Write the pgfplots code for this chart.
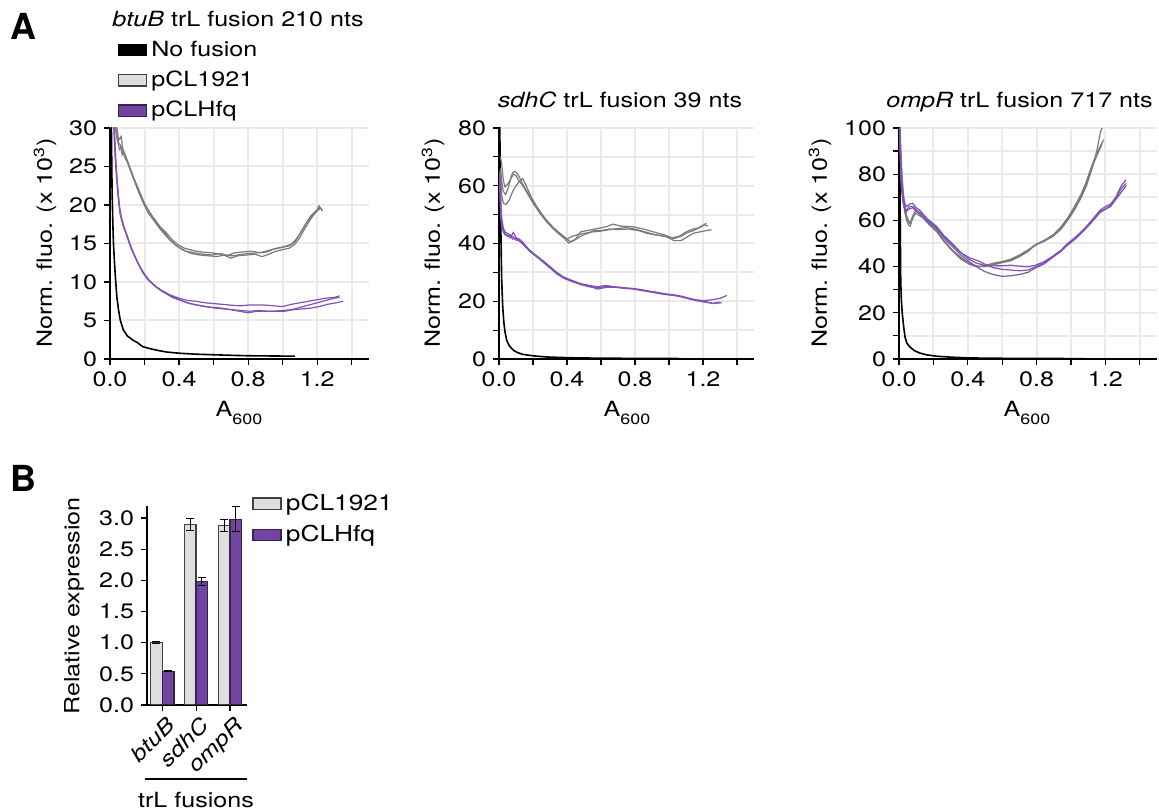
\documentclass[border=0pt]{standalone}
\usepackage{fontspec}
\setmainfont{TeX Gyre Heros}[FakeStretch=1.2]
\newfontfamily\panelfont{TeX Gyre Heros}
\usepackage{pgfplots}
\pgfplotsset{compat=1.18}
\definecolor{gline}{RGB}{122,122,122}
\definecolor{pline}{RGB}{128,82,180}
\definecolor{pbar}{RGB}{112,68,160}
\definecolor{pborder}{RGB}{55,35,75}
\definecolor{gbar}{RGB}{222,222,222}
\definecolor{gborder}{RGB}{65,65,65}
\definecolor{gridc}{RGB}{234,234,234}
\newcommand{\fs}{\fontsize{10.5}{12}\selectfont}
\pgfplotsset{
  panel/.style={
    scale only axis, height=115.5bp,
    xmin=0, xmax=1.5, ymin=0,
    axis lines=left, axis line style={-, line width=0.7bp, black},
    tick align=outside, major tick length=3bp,
    tick style={black, line width=0.6bp},
    grid=major, major grid style={draw=gridc, line width=1bp},
    xtick={0,0.2,0.4,0.6,0.8,1.0,1.2,1.4},
    xticklabels={0.0,,0.4,,0.8,,1.2,},
    tick label style={font=\fs},
    /pgf/number format/assume math mode=true,
  },
  gs/.style={draw=gline, line width=0.6bp, mark=none, forget plot},
  ps/.style={draw=pline, line width=0.6bp, mark=none, forget plot},
  ks/.style={draw=black, line width=0.8bp, mark=none, forget plot},
  eb/.style={draw=none, mark=none, forget plot,
    error bars/.cd, y dir=both, y explicit,
    error bar style={draw=black, solid, line width=0.5bp},
    error mark options={rotate=90, draw=black, mark size=2bp, line width=0.5bp}},
}
\begin{document}
\begin{tikzpicture}
\useasboundingbox (0,0) rectangle (579.5bp,406bp);
% ---------------- A1 btuB
\begin{axis}[panel, at={(55bp,226.5bp)}, anchor=south west, width=129.5bp,
  ymax=30, ytick={0,5,10,15,20,25,30}, yticklabels={0,5,10,15,20,25,30},
  legend style={at={(axis description cs:0.03,1.395)}, anchor=north west, draw=none, fill=none,
    inner sep=0pt, row sep=1.8bp, font=\fs},
  legend cell align=left,
  legend image code/.code={\draw[#1] (0bp,-2.8bp) rectangle (14bp,2.8bp);}]
\addplot[ks] coordinates {(0.006,35)(0.009,28)(0.012,22)(0.016,18)(0.02,15)(0.03,11)(0.04,8)(0.05,6.3)(0.06,5.0)(0.077,3.8)(0.1,3.0)(0.13,2.5)(0.16,2.1)(0.19,1.6)(0.23,1.35)(0.28,1.1)(0.33,0.9)(0.4,0.75)(0.5,0.62)(0.6,0.55)(0.7,0.48)(0.8,0.42)(0.9,0.4)(1.0,0.38)(1.07,0.38)};
\addplot[gs] coordinates {(0.025,32)(0.035,29.5)(0.045,28.2)(0.06,27.8)(0.07,26.5)(0.08,27.0)(0.095,26.0)(0.11,25.0)(0.135,23.6)(0.16,22.2)(0.19,20.6)(0.22,19.4)(0.25,18.4)(0.29,17.2)(0.33,16.3)(0.36,15.5)(0.39,14.9)(0.43,14.4)(0.48,14.1)(0.53,13.9)(0.58,13.8)(0.62,13.7)(0.67,13.5)(0.71,13.4)(0.76,13.6)(0.81,13.7)(0.86,13.8)(0.91,13.9)(0.95,14.3)(1.0,14.5)(1.04,14.7)(1.07,15.2)(1.1,16.3)(1.13,17.4)(1.16,18.5)(1.19,19.2)(1.22,19.7)};
\addplot[gs] coordinates {(0.03,31)(0.04,28.8)(0.055,27.2)(0.07,27.6)(0.085,26.2)(0.1,25.6)(0.13,23.8)(0.16,22.0)(0.19,20.4)(0.22,19.0)(0.26,17.8)(0.3,16.6)(0.34,15.6)(0.38,14.8)(0.42,14.2)(0.47,13.7)(0.52,13.5)(0.57,13.4)(0.62,13.3)(0.66,13.5)(0.7,13.1)(0.74,13.4)(0.79,13.5)(0.84,13.6)(0.88,13.3)(0.92,13.6)(0.96,14.0)(1.0,14.2)(1.04,14.4)(1.07,14.9)(1.1,15.8)(1.13,17.0)(1.16,18.1)(1.19,19.0)(1.22,19.6)(1.23,19.3)};
\addplot[gs] coordinates {(0.03,33)(0.04,30)(0.05,28.4)(0.065,28.9)(0.075,27.0)(0.09,26.4)(0.11,25.2)(0.14,23.4)(0.17,21.8)(0.2,20.2)(0.23,19.0)(0.27,17.6)(0.31,16.6)(0.35,15.4)(0.39,14.6)(0.44,14.0)(0.49,13.8)(0.54,13.6)(0.59,13.5)(0.64,13.7)(0.68,13.4)(0.72,13.8)(0.77,13.9)(0.82,14.0)(0.87,13.8)(0.92,14.1)(0.97,14.4)(1.01,14.6)(1.05,14.9)(1.08,15.6)(1.11,16.6)(1.14,17.8)(1.17,18.6)(1.2,19.4)(1.21,19.9)(1.23,19.2)};
\addplot[ps] coordinates {(0.02,32)(0.03,27)(0.04,23.6)(0.05,20.8)(0.058,19.0)(0.07,17.8)(0.085,16.8)(0.1,16.0)(0.115,15.0)(0.135,13.8)(0.16,12.5)(0.19,11.2)(0.22,10.3)(0.26,9.5)(0.3,8.9)(0.35,8.3)(0.4,7.9)(0.45,7.6)(0.5,7.5)(0.55,7.3)(0.6,7.2)(0.65,7.1)(0.7,7.0)(0.75,6.9)(0.8,7.0)(0.85,7.0)(0.9,7.0)(0.95,6.9)(1.0,6.8)(1.05,7.1)(1.1,7.3)(1.15,7.5)(1.2,7.7)(1.25,7.9)(1.3,8.0)(1.33,8.2)};
\addplot[ps] coordinates {(0.02,31)(0.03,26)(0.04,23)(0.05,20.4)(0.06,18.7)(0.075,17.5)(0.09,16.5)(0.11,15.2)(0.13,14.0)(0.16,12.6)(0.19,11.3)(0.22,10.4)(0.26,9.5)(0.3,8.8)(0.35,8.2)(0.4,7.7)(0.45,7.3)(0.5,7.0)(0.55,6.8)(0.6,6.7)(0.65,6.6)(0.7,6.4)(0.75,6.2)(0.8,6.0)(0.85,6.2)(0.9,6.2)(0.95,6.2)(1.0,6.3)(1.05,6.4)(1.1,6.7)(1.15,7.0)(1.2,7.3)(1.25,7.6)(1.3,7.9)(1.33,8.0)};
\addplot[ps] coordinates {(0.025,30)(0.035,25)(0.045,22)(0.055,19.8)(0.065,18.5)(0.08,17.2)(0.095,16.2)(0.115,14.8)(0.14,13.5)(0.17,12.1)(0.2,11.0)(0.23,10.1)(0.27,9.3)(0.31,8.7)(0.36,8.0)(0.41,7.6)(0.46,7.2)(0.51,7.0)(0.56,6.8)(0.61,6.6)(0.66,6.5)(0.71,6.4)(0.76,6.3)(0.81,6.2)(0.86,6.3)(0.91,6.2)(0.96,6.2)(1.01,6.2)(1.06,6.4)(1.11,6.5)(1.16,6.6)(1.21,6.8)(1.26,7.1)(1.31,7.3)(1.35,7.5)};
\addlegendimage{fill=black, draw=black, line width=0.6bp}
\addlegendentry{No fusion}
\addlegendimage{fill=gbar, draw=gborder, line width=0.6bp}
\addlegendentry{pCL1921}
\addlegendimage{fill=pbar, draw=pborder, line width=0.6bp}
\addlegendentry{pCLHfq}
\end{axis}
% ---------------- A2 sdhC
\begin{axis}[panel, at={(249.5bp,226.5bp)}, anchor=south west, width=127.5bp,
  ymax=80, ytick={0,10,20,30,40,50,60,70,80}, yticklabels={0,,20,,40,,60,,80}]
\addplot[ks] coordinates {(0.004,85)(0.008,60)(0.012,40)(0.016,27)(0.022,18)(0.028,13)(0.035,9.5)(0.045,6.5)(0.06,4.6)(0.085,3.0)(0.11,2.2)(0.14,1.6)(0.2,1.1)(0.28,0.7)(0.38,0.5)(0.48,0.35)(0.6,0.3)(0.8,0.2)(1.07,0.15)};
\addplot[gs] coordinates {(0.008,70)(0.016,67.7)(0.025,62)(0.035,59.6)(0.05,60.5)(0.065,62)(0.08,64.5)(0.094,65)(0.11,64)(0.12,63)(0.14,60.5)(0.16,58.5)(0.19,55.5)(0.22,52.7)(0.25,50.2)(0.28,48)(0.32,45.5)(0.36,43.5)(0.39,42)(0.42,40.6)(0.45,41.5)(0.48,44)(0.52,44.5)(0.58,45.2)(0.63,45.8)(0.67,46.7)(0.72,46)(0.79,45.8)(0.85,45)(0.91,44)(0.97,43)(1.03,41.7)(1.07,42.5)(1.11,43.8)(1.15,44.6)(1.19,46)(1.22,47)};
\addplot[gs] coordinates {(0.008,66)(0.015,62)(0.025,58)(0.04,57)(0.055,59.5)(0.07,62.5)(0.085,64)(0.1,63.5)(0.12,61.5)(0.14,60)(0.17,57)(0.2,54)(0.24,50.5)(0.28,47.5)(0.32,45)(0.36,43)(0.4,41.5)(0.43,42.5)(0.46,43)(0.5,43.5)(0.55,44)(0.6,44.3)(0.65,44.8)(0.7,45.2)(0.75,45.5)(0.8,45)(0.86,44)(0.92,43)(0.98,42.5)(1.03,41)(1.07,41)(1.1,42)(1.14,43.5)(1.18,44)(1.22,44.5)(1.25,44.8)};
\addplot[gs] coordinates {(0.008,64)(0.015,57)(0.025,54)(0.04,53.5)(0.06,55)(0.08,58)(0.1,60)(0.12,61.5)(0.14,62.5)(0.16,60)(0.19,56)(0.22,53)(0.26,49.5)(0.3,46.5)(0.34,44)(0.38,42)(0.41,40.2)(0.44,41)(0.48,42.5)(0.52,43.5)(0.56,44.5)(0.6,44.5)(0.65,45)(0.7,44.8)(0.76,45)(0.82,44.5)(0.87,43.5)(0.92,43)(0.97,42.5)(1.02,42)(1.06,42.5)(1.1,44)(1.14,45)(1.18,45.5)(1.21,46.5)(1.23,46)};
\addplot[ps] coordinates {(0.004,65)(0.008,56)(0.012,51)(0.018,48)(0.025,45.5)(0.035,44)(0.05,43.5)(0.07,42.5)(0.085,43.8)(0.1,42)(0.12,41.5)(0.14,40.5)(0.16,39)(0.18,37.7)(0.22,35.8)(0.26,34)(0.3,32)(0.34,30)(0.38,28.4)(0.43,27.2)(0.48,26.1)(0.53,25.5)(0.58,25)(0.63,25.5)(0.67,25)(0.72,24.8)(0.77,24.4)(0.82,24)(0.87,23.6)(0.92,23.2)(0.97,22.6)(1.02,22.3)(1.07,21.8)(1.12,21)(1.16,20.5)(1.2,20.2)(1.25,20.5)(1.3,21)(1.34,22)};
\addplot[ps] coordinates {(0.004,63)(0.008,54)(0.012,49)(0.018,46.5)(0.025,45)(0.035,43.5)(0.05,42.5)(0.065,43)(0.08,41.5)(0.1,41.8)(0.12,40.8)(0.14,40)(0.16,38.8)(0.18,37.3)(0.22,35.5)(0.26,33.5)(0.3,31.5)(0.34,29.5)(0.38,28)(0.43,26.8)(0.48,25.8)(0.53,25)(0.58,24.6)(0.63,25.2)(0.68,25)(0.73,24.5)(0.78,24.3)(0.83,23.8)(0.88,23.3)(0.93,22.8)(0.98,22.3)(1.03,22)(1.08,21.4)(1.13,20.6)(1.18,20)(1.22,19.6)(1.26,19.3)(1.3,19.7)};
\addplot[ps] coordinates {(0.004,60)(0.008,52)(0.012,48)(0.018,45.5)(0.025,44)(0.035,43)(0.05,42.8)(0.065,42)(0.08,42.5)(0.1,41.2)(0.12,41)(0.14,39.8)(0.16,38.5)(0.18,37.6)(0.22,35.5)(0.26,33.7)(0.3,31.8)(0.34,29.7)(0.38,28.2)(0.43,27)(0.48,26)(0.53,25.3)(0.58,24.2)(0.63,24.8)(0.68,24.8)(0.73,24.6)(0.78,24.5)(0.83,24.1)(0.88,23.5)(0.93,23)(0.98,22.5)(1.03,22.1)(1.08,21.5)(1.13,20.8)(1.18,20.2)(1.22,19.8)(1.26,19.2)(1.31,19.5)};
\end{axis}
% ---------------- A3 ompR
\begin{axis}[panel, at={(449.5bp,226.5bp)}, anchor=south west, width=129bp,
  ymax=100, ytick={0,10,20,30,40,50,60,70,80,90,100}, yticklabels={0,,20,,40,,60,,80,,100}]
\addplot[ks] coordinates {(0.003,110)(0.006,70)(0.01,34)(0.014,25)(0.019,19.7)(0.027,14)(0.035,9.5)(0.045,7)(0.063,5.2)(0.09,3.6)(0.12,2.6)(0.16,1.8)(0.22,1.2)(0.3,0.8)(0.41,0.45)(0.6,0.3)(0.8,0.25)(1.08,0.15)};
\addplot[gs] coordinates {(0.005,105)(0.01,92)(0.015,83)(0.025,72)(0.035,66)(0.045,62)(0.054,60)(0.067,58.5)(0.08,61.6)(0.09,63)(0.1,64.5)(0.12,63)(0.14,61.6)(0.18,58.5)(0.22,55.8)(0.26,51.5)(0.31,47.2)(0.36,44)(0.41,41.4)(0.45,40.3)(0.5,40)(0.55,40.8)(0.6,41.7)(0.65,42.5)(0.7,44.3)(0.75,46.5)(0.79,49.3)(0.84,51)(0.89,52.8)(0.94,56)(0.98,60)(1.02,64.5)(1.06,70)(1.09,75)(1.12,81.9)(1.15,90)(1.17,97.8)(1.18,100)};
\addplot[gs] coordinates {(0.005,100)(0.01,88)(0.015,80)(0.025,70)(0.035,64)(0.045,60)(0.055,58)(0.065,57.5)(0.075,60)(0.09,62.5)(0.1,63)(0.12,62)(0.14,61)(0.18,57.8)(0.22,55)(0.26,51)(0.31,46.8)(0.36,43.5)(0.41,41)(0.46,40)(0.5,40.2)(0.55,41)(0.6,42)(0.65,43)(0.7,44.8)(0.75,47)(0.8,49.5)(0.85,51.2)(0.9,53.5)(0.94,56.5)(0.98,60.5)(1.02,65)(1.06,70.5)(1.09,76)(1.12,82.5)(1.15,88)(1.18,93)};
\addplot[gs] coordinates {(0.005,98)(0.01,86)(0.015,78)(0.025,69)(0.035,63)(0.045,60.5)(0.055,59)(0.065,58.8)(0.075,61)(0.09,63.5)(0.1,64)(0.12,62.8)(0.14,61.2)(0.18,58.2)(0.22,55.5)(0.26,51.2)(0.31,47)(0.36,43.2)(0.41,41)(0.46,39.8)(0.5,40.5)(0.55,41.5)(0.6,42.2)(0.65,43.2)(0.7,45)(0.75,47.2)(0.8,49.8)(0.85,51.6)(0.9,54)(0.94,57)(0.98,61)(1.02,66)(1.06,71.5)(1.09,77)(1.12,83.5)(1.15,89)(1.17,92)(1.19,95)};
\addplot[ps] coordinates {(0.005,100)(0.01,88)(0.015,76)(0.025,70)(0.035,67)(0.044,66)(0.06,67)(0.08,67.4)(0.1,65.5)(0.12,64.5)(0.16,61)(0.22,57.3)(0.26,53.5)(0.31,50)(0.36,46)(0.41,43)(0.45,41.5)(0.5,40.5)(0.55,40.3)(0.6,40.4)(0.65,40.6)(0.7,40.2)(0.75,40)(0.79,40.5)(0.84,42)(0.89,44.3)(0.94,47)(0.98,50)(1.03,53)(1.08,56.6)(1.12,60)(1.17,64.5)(1.2,66)(1.23,67)(1.26,70)(1.29,74.7)(1.32,77.6)};
\addplot[ps] coordinates {(0.005,95)(0.01,84)(0.015,75)(0.025,68)(0.035,65)(0.045,64.5)(0.06,66)(0.08,66)(0.1,64.5)(0.12,63.5)(0.16,60.5)(0.22,57)(0.26,53)(0.31,49.5)(0.36,46)(0.41,43.8)(0.46,42.5)(0.5,41)(0.55,39.5)(0.6,38.8)(0.65,38.5)(0.7,38.2)(0.75,38.5)(0.79,39.8)(0.84,41.5)(0.89,44)(0.94,46.8)(0.98,49.5)(1.03,52.5)(1.08,56)(1.12,59.5)(1.17,64)(1.2,65)(1.23,66.5)(1.26,69.5)(1.29,73.5)(1.32,76)};
\addplot[ps] coordinates {(0.005,92)(0.01,80)(0.015,73)(0.025,67)(0.035,64)(0.045,64)(0.06,65)(0.08,65.5)(0.1,64)(0.12,63)(0.16,60)(0.22,56.5)(0.26,52.5)(0.31,48.8)(0.36,45)(0.41,42)(0.46,39.5)(0.5,37.8)(0.55,36.5)(0.6,35.8)(0.65,36)(0.7,36.6)(0.75,37.5)(0.79,39.3)(0.84,41)(0.89,43.8)(0.94,46.5)(0.98,49.3)(1.03,52.3)(1.08,56)(1.12,59.2)(1.17,63.5)(1.2,64.8)(1.23,66)(1.26,69)(1.29,72)(1.32,75)};
\end{axis}
% ---------------- B bars
\begin{axis}[scale only axis, at={(73.5bp,53.5bp)}, anchor=south west, width=50bp, height=99.7bp,
  xmin=0.55, xmax=3.5, ymin=0, ymax=3.2,
  axis lines=left, axis line style={-, line width=0.7bp, black},
  tick align=outside, major tick length=3bp, tick style={black, line width=0.6bp},
  xtick={1,2,3}, xticklabels={btuB,sdhC,ompR},
  xticklabel style={xshift=1.5bp, yshift=2.5bp, rotate=45, anchor=north east, font=\itshape\fs},
  ytick={0,0.5,1,1.5,2,2.5,3}, yticklabels={0.0,0.5,1.0,1.5,2.0,2.5,3.0},
  yticklabel style={font=\fs},
  /pgf/number format/assume math mode=true,
  legend style={at={(axis description cs:1.05,1.08)}, anchor=north west, draw=none, fill=none,
    inner sep=0pt, row sep=2bp, font=\fontsize{11}{12}\selectfont},
  legend cell align=left,
  legend image code/.code={\draw[#1] (0bp,-2.8bp) rectangle (14bp,2.8bp);}]
\addplot[ybar, bar width=0.34, bar shift=-0.17, fill=gbar, draw=gborder, line width=0.75bp, forget plot]
  coordinates {(1,1.0) (2,2.9) (3,2.88)};
\addplot[ybar, bar width=0.34, bar shift=0.17, fill=pbar, draw=pborder, line width=0.75bp, forget plot]
  coordinates {(1,0.54) (2,1.98) (3,2.98)};
\addplot[eb] coordinates {(0.83,1.0) +- (0,0.02) (1.83,2.9) +- (0,0.1) (2.83,2.88) +- (0,0.1)};
\addplot[eb] coordinates {(1.17,0.54) +- (0,0.01) (2.17,1.98) +- (0,0.06) (3.17,2.98) +- (0,0.2)};
\addlegendimage{fill=gbar, draw=gborder, line width=0.75bp}
\addlegendentry{pCL1921}
\addlegendimage{fill=pbar, draw=pborder, line width=0.75bp}
\addlegendentry{pCLHfq}
\end{axis}
% ---------------- text
\node[font=\panelfont\bfseries\fontsize{18}{20}\selectfont, inner sep=0pt] at (11.75bp,393bp) {A};
\node[font=\panelfont\bfseries\fontsize{18}{20}\selectfont, inner sep=0pt] at (11.75bp,166.75bp) {B};
\node[font=\fs, anchor=base west, inner sep=0pt] at (56bp,392.5bp) {\textit{btuB} trL fusion 210 nts};
\node[font=\fs, anchor=base, inner sep=0pt] at (310bp,352bp) {\textit{sdhC} trL fusion 39 nts};
\node[font=\fs, anchor=base, inner sep=0pt] at (509.75bp,352bp) {\textit{ompR} trL fusion 717 nts};
\node[font=\fs, rotate=90, inner sep=0pt] at (22.5bp,284.5bp) {Norm. fluo. (x 10\textsuperscript{3})};
\node[font=\fs, rotate=90, inner sep=0pt] at (216.5bp,284.5bp) {Norm. fluo. (x 10\textsuperscript{3})};
\node[font=\fs, rotate=90, inner sep=0pt] at (410bp,284.5bp) {Norm. fluo. (x 10\textsuperscript{3})};
\node[font=\fs, anchor=base, inner sep=0pt] at (119.5bp,197.5bp) {A\raisebox{-4bp}{\fontsize{7.5}{8}\selectfont 600}};
\node[font=\fs, anchor=base, inner sep=0pt] at (313.5bp,197.5bp) {A\raisebox{-4bp}{\fontsize{7.5}{8}\selectfont 600}};
\node[font=\fs, anchor=base, inner sep=0pt] at (513.5bp,197.5bp) {A\raisebox{-4bp}{\fontsize{7.5}{8}\selectfont 600}};
\node[font=\fs, rotate=90, inner sep=0pt] at (37bp,103bp) {Relative expression};
\draw[line width=0.6bp] (72.5bp,16.5bp) -- (123.5bp,16.5bp);
\node[font=\fs, anchor=base, inner sep=0pt] at (98bp,2.5bp) {trL fusions};
\end{tikzpicture}
\end{document}
